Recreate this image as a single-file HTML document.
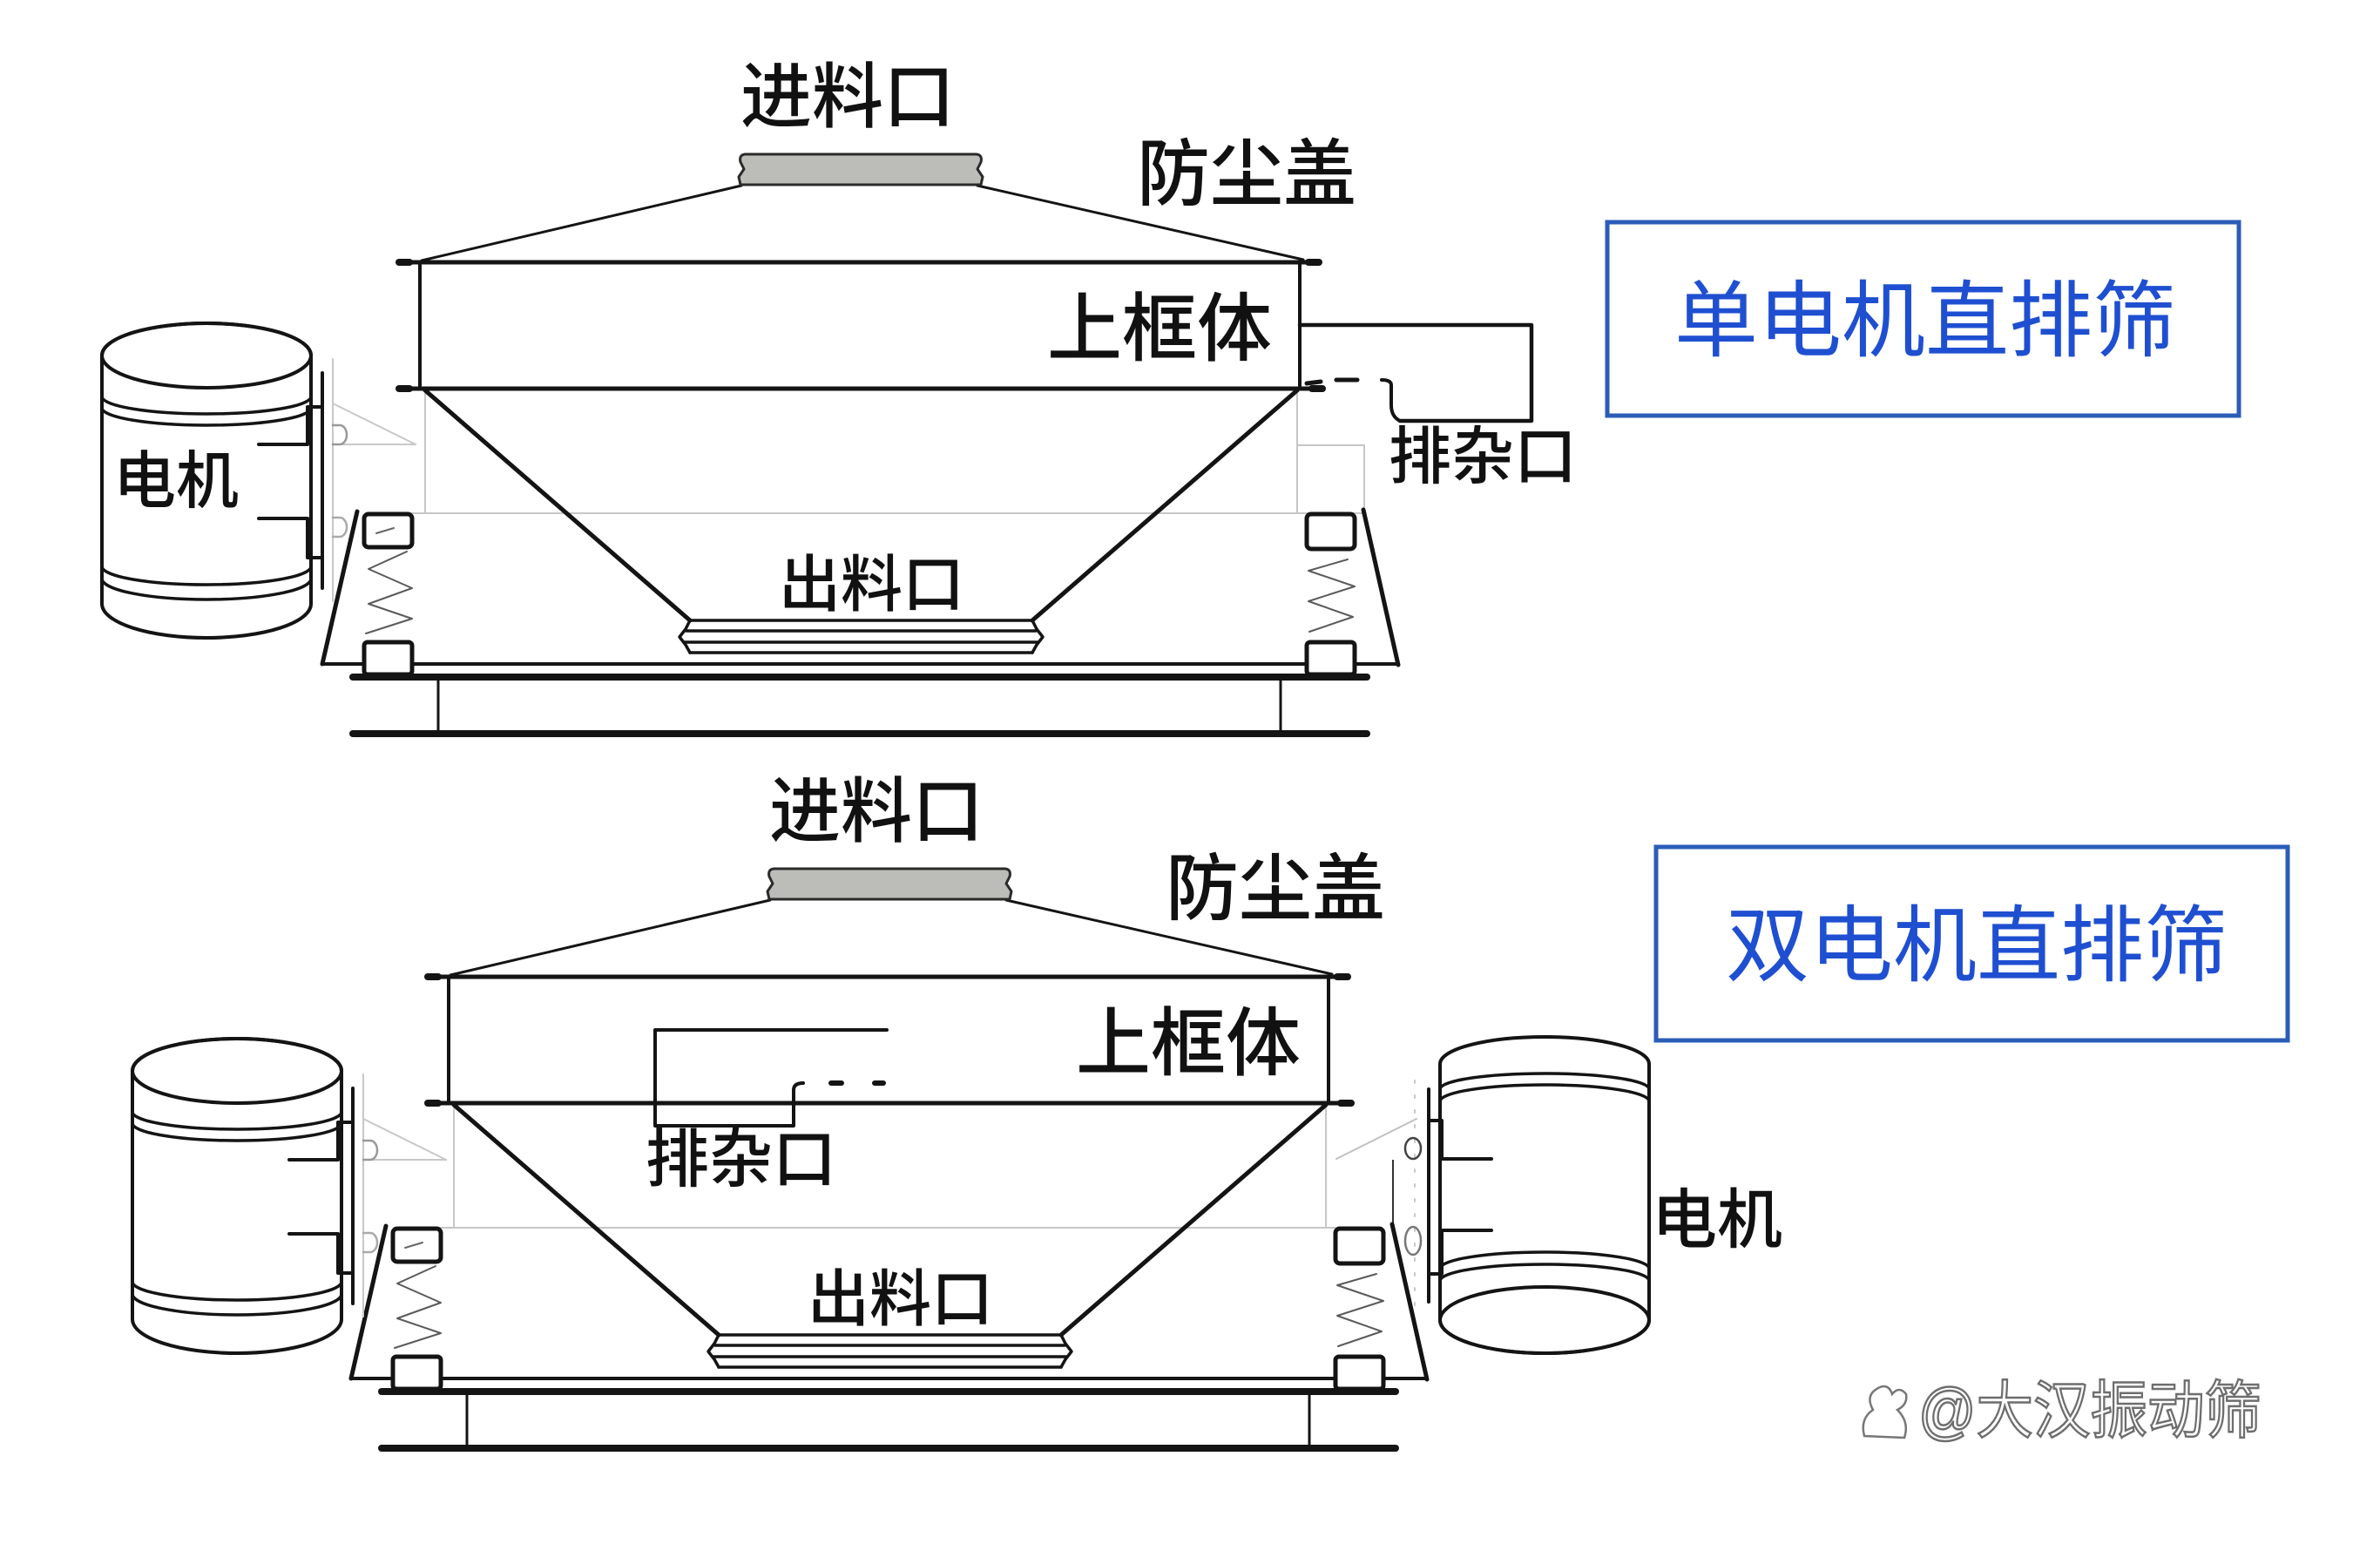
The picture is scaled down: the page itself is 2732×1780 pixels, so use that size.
<!DOCTYPE html>
<html><head><meta charset="utf-8"><style>
html,body{margin:0;padding:0;background:#fff;}
svg{display:block;}
.lb{font-family:"Liberation Sans","Noto Sans CJK SC",sans-serif;fill:#111;font-weight:500;}
.bl{font-family:"Liberation Sans","Noto Sans CJK SC",sans-serif;fill:#1f4fd1;}
</style></head><body>
<svg xmlns="http://www.w3.org/2000/svg" xmlns:xlink="http://www.w3.org/1999/xlink" width="2732" height="1780" viewBox="0 0 2732 1780">
<rect width="2732" height="1780" fill="#fff"/>
<defs>
<g id="machine" fill="none" stroke="#141414" stroke-linecap="round" stroke-linejoin="round">
  <g stroke="#c6c6c6" stroke-width="2">
    <line x1="488" y1="452" x2="488" y2="589"/>
    <line x1="1489" y1="452" x2="1489" y2="589"/>
    <line x1="445" y1="589" x2="1500" y2="589"/>
  </g>
  <line x1="484" y1="299" x2="851" y2="213" stroke-width="3"/>
  <line x1="1122" y1="213" x2="1496" y2="298" stroke-width="3"/>
  <path d="M855,177 L1121,177 Q1128,178 1126,186 L1122,194 L1128,203 L1126,212 L850,212 L848,203 L854,194 L850,186 Q848,178 855,177 Z" fill="#bcbcb9" stroke="#2a2a2a" stroke-width="3"/>
  <line x1="462" y1="301" x2="1512" y2="301" stroke-width="5"/>
  <line x1="458" y1="301" x2="470" y2="301" stroke-width="8"/>
  <line x1="1502" y1="301" x2="1514" y2="301" stroke-width="8"/>
  <line x1="482" y1="301" x2="482" y2="446" stroke-width="4"/>
  <line x1="1492" y1="301" x2="1492" y2="446" stroke-width="4"/>
  <line x1="460" y1="446" x2="1516" y2="446" stroke-width="5"/>
  <line x1="458" y1="446" x2="470" y2="446" stroke-width="8"/>
  <line x1="1506" y1="446" x2="1518" y2="446" stroke-width="8"/>
  <line x1="488" y1="448" x2="792" y2="712" stroke-width="5"/>
  <line x1="1489" y1="448" x2="1185" y2="712" stroke-width="5"/>
  <g stroke-width="3.5">
    <line x1="792" y1="712" x2="1185" y2="712"/>
    <line x1="788" y1="724" x2="1189" y2="724"/>
    <line x1="785" y1="737" x2="1192" y2="737"/>
    <line x1="792" y1="749" x2="1185" y2="749"/>
    <polyline points="792,712 787,722 780,731 787,740 792,749"/>
    <polyline points="1185,712 1190,722 1197,731 1190,740 1185,749"/>
  </g>
  <line x1="410" y1="587" x2="370" y2="762" stroke-width="5"/>
  <line x1="1565" y1="585" x2="1605" y2="763" stroke-width="5"/>
  <line x1="370" y1="762" x2="1605" y2="762" stroke-width="4"/>
  <line x1="405" y1="777" x2="1569" y2="777" stroke-width="8"/>
  <line x1="503" y1="777" x2="503" y2="842" stroke-width="3"/>
  <line x1="1470" y1="777" x2="1470" y2="842" stroke-width="3"/>
  <line x1="405" y1="842" x2="1569" y2="842" stroke-width="8"/>
  <g stroke-width="5" fill="#fff">
    <rect x="418" y="590" width="55" height="38" rx="5"/>
    <rect x="1500" y="590" width="55" height="40" rx="5"/>
    <rect x="418" y="737" width="55" height="37" rx="4"/>
    <rect x="1500" y="737" width="55" height="37" rx="4"/>
  </g>
  <line x1="432" y1="612" x2="452" y2="606" stroke-width="2" stroke="#666"/>
  <g stroke="#5a5a5a" stroke-width="2">
    <polyline points="467,633 423,653 473,675 423,693 473,710 420,727"/>
    <polyline points="1547,642 1502,655 1555,673 1502,690 1553,708 1503,725"/>
  </g>
</g>

<g id="motor" fill="none" stroke="#141414" stroke-linecap="round" stroke-linejoin="round">
  <g stroke="#c8c8c8" stroke-width="2">
    <line x1="382" y1="412" x2="382" y2="690"/>
    <line x1="382" y1="463" x2="477" y2="510"/>
    <line x1="382" y1="510" x2="477" y2="510"/>
  </g>
  <path d="M382,488 h8 a8,11 0 0 1 0,22 h-8" stroke="#999" stroke-width="2.5"/>
  <path d="M382,594 h8 a8,11 0 0 1 0,22 h-8" stroke="#aaa" stroke-width="2.5"/>
  <path d="M117,408 A120,37 0 0 1 357,408 L357,693 A120,39 0 0 1 117,693 Z" fill="#fff" stroke-width="4"/>
  <ellipse cx="237" cy="408" rx="120" ry="37" stroke-width="4"/>
  <path d="M117,455 A120,20 0 0 0 357,455" stroke-width="3.5"/>
  <path d="M117,468 A120,20 0 0 0 357,468" stroke-width="3.5"/>
  <path d="M117,650 A120,21 0 0 0 357,650" stroke-width="3.5"/>
  <path d="M117,664 A120,24 0 0 0 357,664" stroke-width="3.5"/>
  <line x1="370" y1="428" x2="370" y2="675" stroke-width="4"/>
  <polyline points="297,510 353,510 353,467 370,467" stroke-width="4"/>
  <polyline points="297,595 353,595 353,640 370,640" stroke-width="4"/>
</g>
</defs>

<g fill="none" stroke="#c6c6c6" stroke-width="2">
  <rect x="1489" y="511" width="77" height="78"/>
</g>
<use xlink:href="#machine" href="#machine"/>
<use xlink:href="#motor" href="#motor"/>

<g fill="none" stroke="#141414" stroke-linecap="round" stroke-linejoin="round">
  <polyline points="1492,373 1758,373 1758,483 1607,483" stroke-width="4.5"/>
  <path d="M1607,483 Q1597,478 1597,465 L1597,442 Q1597,436 1586,436" stroke-width="4"/>
  <line x1="1534" y1="436" x2="1558" y2="436" stroke-width="5"/>
  <line x1="1500" y1="440" x2="1516" y2="438" stroke-width="5"/>
</g>

<text class="lb" x="850" y="112" font-size="82" dominant-baseline="central">进料口</text>
<text class="lb" x="1305" y="200" font-size="84" dominant-baseline="central">防尘盖</text>
<text class="lb" x="1202" y="378" font-size="86" dominant-baseline="central">上框体</text>
<text class="lb" x="894" y="672" font-size="71" dominant-baseline="central">出料口</text>
<text class="lb" x="1594" y="525" font-size="72" dominant-baseline="central">排杂口</text>
<text class="lb" x="130" y="553" font-size="72" dominant-baseline="central">电机</text>

<rect x="1845" y="255" width="725" height="222" fill="none" stroke="#2b5cb8" stroke-width="5"/>
<text class="bl" x="1922" y="369" font-size="96" dominant-baseline="central">单电机直排筛</text>

<line x1="1599" y1="1331" x2="1599" y2="1409" stroke="#333" stroke-width="2"/>
<use xlink:href="#machine" href="#machine" transform="translate(33,820)"/>
<use xlink:href="#motor" href="#motor" transform="translate(35,821)"/>

<g fill="none" stroke="#141414" stroke-linecap="round" stroke-linejoin="round">
  <line x1="1534" y1="1330" x2="1626" y2="1284" stroke="#c0c0c0" stroke-width="2"/>
  <line x1="1624" y1="1240" x2="1624" y2="1500" stroke="#c8c8c8" stroke-width="2" stroke-dasharray="3,14"/>
  <ellipse cx="1622" cy="1318" rx="9" ry="12" stroke="#444" stroke-width="2.5"/>
  <ellipse cx="1622" cy="1424" rx="9" ry="16" stroke="#777" stroke-width="2.5"/>
  <path d="M1653,1221 A120,31 0 0 1 1893,1221 L1893,1515 A120,38 0 0 1 1653,1515 Z" fill="#fff" stroke-width="4"/>
  <ellipse cx="1773" cy="1515" rx="120" ry="38" stroke-width="4"/>
  <path d="M1653,1250 A120,18 0 0 1 1893,1250" stroke-width="3.5"/>
  <path d="M1653,1264 A120,19 0 0 1 1893,1264" stroke-width="3.5"/>
  <path d="M1653,1456 A120,19 0 0 1 1893,1456" stroke-width="3.5"/>
  <path d="M1653,1470 A120,19 0 0 1 1893,1470" stroke-width="3.5"/>
  <line x1="1640" y1="1250" x2="1640" y2="1494" stroke-width="4"/>
  <polyline points="1712,1330 1655,1330 1655,1286 1640,1286" stroke-width="4"/>
  <polyline points="1712,1412 1655,1412 1655,1462 1640,1462" stroke-width="4"/>
</g>

<g fill="none" stroke="#141414" stroke-linecap="round" stroke-linejoin="round">
  <polyline points="1018,1182 752,1182 752,1292 911,1292 911,1251" stroke-width="4"/>
  <path d="M911,1251 Q911,1243 922,1243" stroke-width="4"/>
  <line x1="954" y1="1243" x2="966" y2="1243" stroke-width="6"/>
  <line x1="1004" y1="1243" x2="1014" y2="1243" stroke-width="6"/>
</g>

<text class="lb" x="883" y="932" font-size="82" dominant-baseline="central">进料口</text>
<text class="lb" x="1338" y="1020" font-size="84" dominant-baseline="central">防尘盖</text>
<text class="lb" x="1235" y="1198" font-size="86" dominant-baseline="central">上框体</text>
<text class="lb" x="927" y="1492" font-size="71" dominant-baseline="central">出料口</text>
<text class="lb" x="741" y="1331" font-size="73" dominant-baseline="central">排杂口</text>
<text class="lb" x="1896" y="1400" font-size="75" dominant-baseline="central">电机</text>

<rect x="1901" y="972" width="725" height="222" fill="none" stroke="#2b5cb8" stroke-width="5"/>
<text class="bl" x="1981" y="1086" font-size="96" dominant-baseline="central">双电机直排筛</text>

<g fill="none" stroke="#777" stroke-width="2.5">
  <path d="M2140,1648 Q2135,1628 2150,1618 Q2140,1600 2158,1592 Q2168,1588 2172,1600 Q2180,1590 2188,1600 Q2190,1612 2178,1618 Q2192,1632 2186,1650 Z"/>
</g>
<text x="2202" y="1620" font-size="72" dominant-baseline="central" textLength="394" lengthAdjust="spacingAndGlyphs" fill="#fff" stroke="#6e6e6e" stroke-width="2.5" font-family="'Liberation Sans','Noto Sans CJK SC',sans-serif">@大汉振动筛</text>
</svg>
</body></html>
